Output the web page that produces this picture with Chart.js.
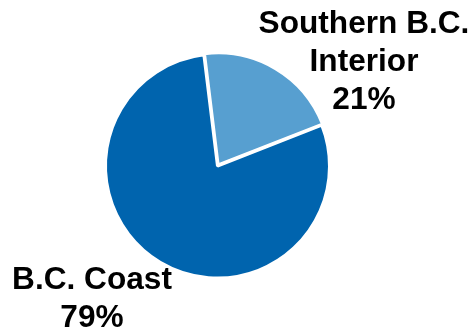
<!DOCTYPE html>
<html lang="en">
<head>
<meta charset="UTF-8">
<title>B.C. share</title>
<script src="https://cdn.jsdelivr.net/npm/chart.js"></script>
<style>
  html, body { margin: 0; padding: 0; background: #fff; }
  #wrap { width: 473px; height: 329px; }
</style>
</head>
<body>
<div id="wrap"><canvas id="myChart" width="473" height="329"></canvas></div>
<script>
    const regions = ['Southern B.C. Interior', 'B.C. Coast'];
    const shares = [21, 79];
    const sliceColors = ['#579fd0', '#0064ae'];

    // label text lines drawn next to the pie
    const labelLines = [
        ['Southern B.C.', 'Interior', shares[0] + '%'],
        ['B.C. Coast', shares[1] + '%']
    ];

    const labelPlugin = {
        id: 'sliceLabels',
        afterDraw(chart) {
            const ctx = chart.ctx;
            ctx.save();
            ctx.fillStyle = '#000';
            ctx.textAlign = 'center';
            ctx.textBaseline = 'alphabetic';
            ctx.font = 'bold 31px "Liberation Sans", Arial, sans-serif';
            const spots = [{ x: 364, y: 33 }, { x: 92, y: 289 }];
            labelLines.forEach((lines, i) => {
                lines.forEach((t, j) => {
                    ctx.save();
                    ctx.translate(spots[i].x, spots[i].y + j * 38);
                    ctx.scale(1.02, 1);
                    ctx.fillText(t, 0, 0);
                    ctx.restore();
                });
            });
            ctx.restore();
        }
    };

    new Chart(document.getElementById('myChart'), {
        type: 'pie',
        data: {
            labels: regions,
            datasets: [{
                data: shares,
                backgroundColor: sliceColors,
                borderColor: '#fff',
                borderWidth: 3,
                offset: [5, 0]
            }]
        },
        options: {
            responsive: false,
            animation: false,
            rotation: -7,
            radius: 112,
            layout: { padding: { left: 0, right: 38, top: 3, bottom: 0 } },
            plugins: {
                legend: { display: false },
                tooltip: { enabled: false }
            }
        },
        plugins: [labelPlugin]
    });
</script>
</body>
</html>
